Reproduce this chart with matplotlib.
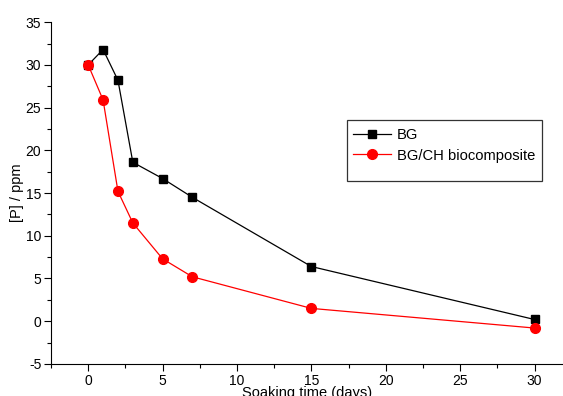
import numpy as np
import matplotlib.pyplot as plt
from matplotlib.ticker import MultipleLocator
from matplotlib.patches import Rectangle

plt.rcParams['font.family'] = ['Liberation Sans', 'DejaVu Sans']
plt.rcParams['axes.unicode_minus'] = False

days = [0, 1, 2, 3, 5, 7, 15, 30]
bg = [30.0, 31.8, 28.2, 18.6, 16.7, 14.5, 6.4, 0.2]
bg_ch = [30.0, 25.9, 15.2, 11.5, 7.3, 5.2, 1.5, -0.8]

fig = plt.figure(figsize=(5.63, 3.96), dpi=100)
ax = fig.add_axes([0.0906, 0.081, 0.909, 0.863])

ax.plot(days, bg, color='black', lw=0.9, marker='s', ms=5.5, label='BG')
ax.plot(days, bg_ch, color='red', lw=0.9, marker='o', ms=7, label='BG/CH biocomposite')

ax.set_xlim(-2.5, 31.9)
ax.set_ylim(-5, 35)
ax.xaxis.set_major_locator(MultipleLocator(5))
ax.xaxis.set_minor_locator(MultipleLocator(2.5))
ax.yaxis.set_major_locator(MultipleLocator(5))
ax.yaxis.set_minor_locator(MultipleLocator(2.5))
ax.set_xticks([0, 5, 10, 15, 20, 25, 30])

for s in ['top', 'right']:
    ax.spines[s].set_visible(False)
ax.tick_params(which='major', direction='out', length=5, width=0.8, labelsize=10, pad=2)
ax.tick_params(which='minor', direction='out', length=3, width=0.8)

ax.set_xlabel('Soaking time (days)', fontsize=10.5, labelpad=-1)
ax.set_ylabel('[P] / ppm', fontsize=10.5, labelpad=1)

# legend box like Origin's, with empty space at the bottom
leg = ax.legend(loc='upper left', bbox_to_anchor=(0.567, 0.725), fontsize=10.6,
                frameon=False, borderpad=0.3, handlelength=2.6, handletextpad=0.4,
                labelspacing=0.45)
ax.add_patch(Rectangle((0.578, 0.535), 0.381, 0.178, transform=ax.transAxes,
                       fill=False, edgecolor='#333333', lw=0.9, clip_on=False))

plt.savefig('out.png', dpi=100)
